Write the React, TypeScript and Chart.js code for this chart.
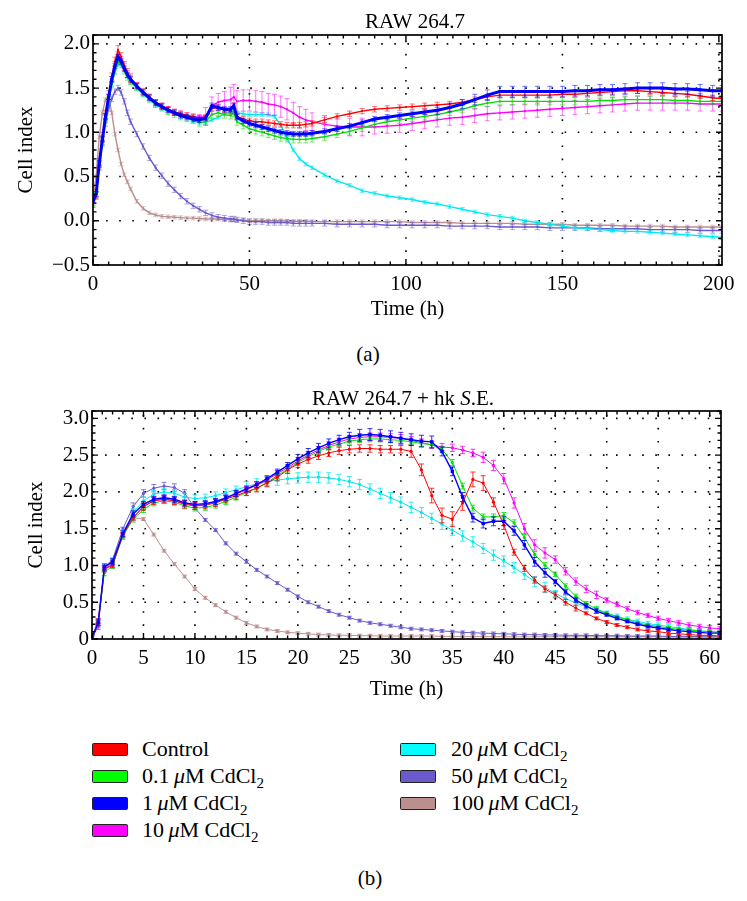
import React, { useEffect, useRef } from "react";
import { Chart, registerables } from "chart.js";

Chart.register(...registerables);

const FONT_FAMILY = "'Liberation Serif', serif";

// ---------- shared series info ----------
const SERIES_NAMES = ["Control", "0.1 μM CdCl2", "1 μM CdCl2", "10 μM CdCl2", "20 μM CdCl2", "50 μM CdCl2", "100 μM CdCl2"];
const SERIES_CONC = [null, "0.1", "1", "10", "20", "50", "100"];
const LINE_COLORS = ["#ff0000", "#00e000", "#0000ff", "#ff00ff", "#00e8f0", "#6a5acd", "#bc8f8f"];
const SWATCH_COLORS = ["#ff0000", "#00ff00", "#0000ff", "#ff00ff", "#00ffff", "#6a5acd", "#bc8f8f"];
const DRAW_ORDER = [1, 2, 0, 3, 4, 5, 6];

// ---------- panel (a): RAW 264.7 ----------
const TOP_TIME = [
  0, 1, 2, 3, 4, 5, 6, 7, 8, 9, 10, 11, 12,
  14, 16, 18, 20, 22, 24, 26, 28, 30, 32, 34, 36, 38, 40, 42, 44,
  45,
  46, 48, 50, 52, 54, 56, 58, 60, 62, 64, 66, 68, 70,
  74, 78, 82, 86, 90, 94, 98, 102, 106, 110, 114, 118, 122, 126, 130, 134, 138, 142, 146, 150, 154, 158, 162, 166, 170, 174, 178, 182, 186, 190, 194, 198,
  201,
];
const TOP_CONTROL = [
  0.25, 0.3, 0.65, 0.95, 1.2, 1.42, 1.62, 1.8, 1.93, 1.85, 1.75, 1.67, 1.61,
  1.53, 1.46, 1.4, 1.34, 1.3, 1.26, 1.23, 1.21, 1.19, 1.17, 1.16, 1.17, 1.27, 1.28, 1.25, 1.24,
  1.3,
  1.18, 1.15, 1.13, 1.12, 1.12, 1.11, 1.1, 1.09, 1.08, 1.08, 1.08, 1.09, 1.1,
  1.14, 1.18, 1.21, 1.24, 1.26, 1.27, 1.28, 1.29, 1.3, 1.31, 1.32, 1.34, 1.37, 1.4, 1.42, 1.42, 1.42, 1.42, 1.42, 1.43, 1.43, 1.44, 1.45, 1.46, 1.47, 1.47, 1.46, 1.45, 1.44, 1.43, 1.41, 1.39,
  1.38,
];
const TOP_CD01 = [
  0.2, 0.28, 0.62, 0.9, 1.15, 1.36, 1.55, 1.7, 1.8, 1.77, 1.7, 1.63, 1.58,
  1.51, 1.44, 1.38, 1.32, 1.28, 1.24, 1.21, 1.18, 1.16, 1.14, 1.11, 1.12, 1.2, 1.22, 1.2, 1.19,
  1.22,
  1.12, 1.08, 1.04, 1.02, 1.0, 0.98, 0.96, 0.94, 0.93, 0.92, 0.92, 0.92, 0.93,
  0.95, 0.98, 1.01, 1.05, 1.09, 1.12, 1.14, 1.16, 1.18, 1.2, 1.23, 1.26, 1.3, 1.33, 1.35, 1.35, 1.35, 1.35, 1.35, 1.35, 1.35, 1.35, 1.36, 1.36, 1.37, 1.37, 1.37, 1.37, 1.36, 1.36, 1.35, 1.35,
  1.35,
];
const TOP_CD1 = [
  0.22, 0.3, 0.65, 0.92, 1.18, 1.4, 1.6, 1.75, 1.85, 1.8, 1.72, 1.65, 1.6,
  1.52, 1.45, 1.39, 1.33, 1.29, 1.25, 1.22, 1.19, 1.17, 1.15, 1.14, 1.16, 1.3, 1.28, 1.26, 1.26,
  1.3,
  1.17, 1.13, 1.1, 1.08, 1.06, 1.04, 1.02, 1.0, 0.99, 0.98, 0.98, 0.98, 0.99,
  1.01, 1.04, 1.07, 1.11, 1.15, 1.17, 1.19, 1.21, 1.23, 1.25, 1.28, 1.32, 1.37, 1.42, 1.46, 1.46, 1.46, 1.46, 1.46, 1.46, 1.47, 1.47, 1.48, 1.48, 1.49, 1.5, 1.5, 1.5, 1.49, 1.49, 1.48, 1.47,
  1.47,
];
const TOP_CD10 = [
  0.18, 0.3, 0.64, 0.93, 1.18, 1.4, 1.6, 1.77, 1.88, 1.83, 1.75, 1.67, 1.61,
  1.53, 1.46, 1.4, 1.34, 1.3, 1.26, 1.23, 1.21, 1.19, 1.18, 1.17, 1.18, 1.3, 1.34, 1.36, 1.37,
  1.4,
  1.35, 1.36, 1.36, 1.35, 1.34, 1.32, 1.31, 1.29, 1.26, 1.22, 1.17, 1.14, 1.12,
  1.09, 1.07, 1.06, 1.06, 1.06, 1.07, 1.08, 1.1, 1.12, 1.14, 1.16, 1.17, 1.19, 1.21, 1.22, 1.23, 1.24, 1.25, 1.26, 1.27, 1.28, 1.29, 1.3, 1.31, 1.32, 1.33, 1.33, 1.33, 1.33, 1.33, 1.32, 1.32,
  1.32,
];
const TOP_CD20 = [
  0.22, 0.3, 0.62, 0.9, 1.14, 1.35, 1.54, 1.68, 1.77, 1.76, 1.7, 1.63, 1.57,
  1.5, 1.43, 1.37, 1.31, 1.27, 1.24, 1.21, 1.18, 1.16, 1.13, 1.11, 1.11, 1.14, 1.17, 1.21, 1.23,
  1.24,
  1.22, 1.21, 1.2, 1.2, 1.2, 1.2, 1.18, 1.08, 0.93, 0.8, 0.7, 0.64, 0.6,
  0.52, 0.45, 0.4, 0.34, 0.31, 0.28, 0.26, 0.24, 0.21, 0.19, 0.16, 0.13, 0.1, 0.07, 0.05, 0.03, 0.0, -0.02, -0.04, -0.06, -0.08, -0.09, -0.1, -0.11, -0.12, -0.12, -0.13, -0.14, -0.15, -0.16, -0.17, -0.18,
  -0.19,
];
const TOP_CD50 = [
  0.2, 0.3, 0.6, 0.88, 1.1, 1.27, 1.38, 1.46, 1.5, 1.45, 1.35, 1.22, 1.12,
  0.98, 0.84, 0.71, 0.6, 0.51, 0.42, 0.35, 0.28, 0.22, 0.17, 0.13, 0.09, 0.06, 0.04, 0.03, 0.02,
  0.02,
  0.01, 0.0, -0.01, -0.01, -0.01, -0.02, -0.02, -0.02, -0.02, -0.03, -0.03, -0.03, -0.03,
  -0.03, -0.04, -0.04, -0.04, -0.04, -0.05, -0.05, -0.05, -0.05, -0.05, -0.06, -0.06, -0.06, -0.06, -0.07, -0.07, -0.07, -0.07, -0.08, -0.08, -0.08, -0.08, -0.09, -0.09, -0.09, -0.09, -0.1, -0.1, -0.1, -0.1, -0.11, -0.11,
  -0.11,
];
const TOP_CD100 = [
  0.28, 0.5, 0.95, 1.22, 1.37, 1.4, 1.22, 0.98, 0.8, 0.64, 0.52, 0.44, 0.36,
  0.22, 0.14, 0.09, 0.065, 0.05, 0.045, 0.04, 0.035, 0.03, 0.03, 0.025, 0.02, 0.02, 0.02, 0.015, 0.01,
  0.01,
  0.01, 0.01, 0.0, 0.0, 0.0, 0.0, 0.0, 0.0, -0.005, -0.005, -0.005, -0.005, -0.01,
  -0.01, -0.01, -0.01, -0.01, -0.01, -0.01, -0.01, -0.02, -0.02, -0.02, -0.02, -0.03, -0.03, -0.03, -0.03, -0.03, -0.04, -0.04, -0.04, -0.04, -0.05, -0.05, -0.05, -0.05, -0.06, -0.06, -0.06, -0.06, -0.07, -0.07, -0.07, -0.07,
  -0.07,
];
// error half-widths: [from time, error]
const TOP_ERR = [
  [[0, 0.05], [14, 0.03]],
  [[0, 0.04]],
  [[0, 0.03], [110, 0.05], [122, 0.06]],
  [[0, 0.03], [36, 0.1], [44, 0.14], [46, 0.12], [70, 0.1], [90, 0.08]],
  [[0, 0.02]],
  [[0, 0.03]],
  [[0, 0.02]],
];
const TOP_X_TICKS = [0, 50, 100, 150, 200];
const TOP_Y_TICKS = [-0.5, 0, 0.5, 1, 1.5, 2];

// ---------- panel (b): RAW 264.7 + hk S.E. ----------
const BOT_TIME = [
  0, 0.6, 1.2,
  2, 3, 4, 5, 6, 7, 8, 9, 10, 11,
  12, 13, 14, 15, 16, 17, 18, 19, 20, 21,
  22, 23, 24, 25, 26, 27, 28, 29, 30, 31,
  32, 33, 34, 35, 36, 37, 38, 39, 40, 41,
  42, 43, 44, 45, 46, 47, 48, 49, 50, 51,
  52, 53, 54, 55, 56, 57, 58, 59, 60, 61,
];
const BOT_CONTROL = [
  0.02, 0.25, 0.95,
  1.0, 1.42, 1.65, 1.8, 1.88, 1.9, 1.88, 1.83, 1.81, 1.82,
  1.85, 1.9, 1.95, 2.0, 2.05, 2.12, 2.2, 2.3, 2.38, 2.44,
  2.49, 2.53, 2.56, 2.58, 2.59, 2.59, 2.58, 2.58, 2.58, 2.55,
  2.3, 1.95, 1.68, 1.63, 1.85, 2.17, 2.12, 1.86, 1.55, 1.18,
  0.96, 0.8, 0.68, 0.6, 0.5, 0.42, 0.35, 0.28, 0.23, 0.19,
  0.16, 0.13, 0.11, 0.1, 0.08, 0.07, 0.06, 0.05, 0.05, 0.04,
];
const BOT_CD01 = [
  0.02, 0.22, 0.9,
  1.0, 1.4, 1.63, 1.76, 1.85, 1.88, 1.86, 1.81, 1.78, 1.79,
  1.82, 1.87, 1.93, 1.99, 2.05, 2.13, 2.22, 2.31, 2.4, 2.48,
  2.55, 2.61, 2.65, 2.69, 2.71, 2.72, 2.72, 2.71, 2.7, 2.68,
  2.66, 2.64, 2.58, 2.4, 2.08, 1.78, 1.66, 1.66, 1.68, 1.58,
  1.38, 1.15, 1.0, 0.88, 0.72, 0.58, 0.48, 0.41, 0.35, 0.3,
  0.26, 0.22, 0.19, 0.17, 0.15, 0.13, 0.12, 0.11, 0.1, 0.09,
];
const BOT_CD1 = [
  0.02, 0.22, 0.98,
  1.05, 1.43, 1.7, 1.83, 1.9, 1.92, 1.9, 1.85, 1.83, 1.84,
  1.87, 1.92, 1.98, 2.04, 2.1, 2.18, 2.27, 2.36, 2.45, 2.53,
  2.6, 2.66, 2.71, 2.75, 2.77, 2.78, 2.77, 2.75, 2.73, 2.71,
  2.69, 2.68, 2.55, 2.28, 1.93, 1.65, 1.57, 1.6, 1.6, 1.47,
  1.28, 1.05, 0.9, 0.78, 0.64, 0.53, 0.45, 0.38, 0.33, 0.28,
  0.24, 0.2, 0.17, 0.15, 0.13, 0.11, 0.1, 0.09, 0.08, 0.08,
];
const BOT_CD10 = [
  0.02, 0.17, 0.95,
  1.02, 1.4, 1.65, 1.8, 1.88, 1.9, 1.88, 1.84, 1.82, 1.83,
  1.86, 1.91, 1.97, 2.03, 2.09, 2.16, 2.25, 2.33, 2.42, 2.5,
  2.57, 2.63, 2.68, 2.72, 2.74, 2.75, 2.75, 2.74, 2.73, 2.7,
  2.67, 2.64, 2.61, 2.6, 2.57, 2.53, 2.47, 2.36, 2.18, 1.85,
  1.5, 1.28, 1.17, 1.08, 0.92, 0.78, 0.68, 0.6, 0.53, 0.47,
  0.41, 0.36, 0.32, 0.28, 0.25, 0.22, 0.19, 0.17, 0.15, 0.14,
];
const BOT_CD20 = [
  0.02, 0.2, 0.97,
  1.05, 1.43, 1.72, 1.88, 1.97, 2.0, 1.98, 1.93, 1.91, 1.92,
  1.95, 1.99, 2.03, 2.07, 2.11, 2.14, 2.16, 2.18, 2.19, 2.2,
  2.2, 2.19, 2.17, 2.14, 2.1, 2.04, 1.98, 1.92, 1.86, 1.79,
  1.72, 1.64, 1.56, 1.48, 1.4, 1.32, 1.23, 1.14, 1.06, 0.97,
  0.88, 0.78, 0.7, 0.62, 0.55, 0.49, 0.44, 0.39, 0.35, 0.31,
  0.27, 0.24, 0.21, 0.19, 0.17, 0.15, 0.13, 0.11, 0.1, 0.09,
];
const BOT_CD50 = [
  0.02, 0.2, 0.98,
  1.08, 1.5, 1.8, 1.98, 2.05, 2.08, 2.06, 1.98, 1.78, 1.62,
  1.48, 1.3, 1.16, 1.05, 0.94, 0.85, 0.76, 0.67, 0.58, 0.5,
  0.44, 0.38, 0.33, 0.29, 0.25, 0.22, 0.2, 0.18, 0.16, 0.14,
  0.13, 0.12, 0.11, 0.1, 0.09, 0.085, 0.08, 0.075, 0.07, 0.065,
  0.06, 0.06, 0.055, 0.055, 0.05, 0.05, 0.05, 0.045, 0.045, 0.045,
  0.04, 0.04, 0.04, 0.04, 0.035, 0.035, 0.035, 0.03, 0.03, 0.03,
];
const BOT_CD100 = [
  0.02, 0.22, 0.95,
  1.05, 1.42, 1.65, 1.63, 1.42, 1.2, 1.02, 0.85, 0.68, 0.56,
  0.46, 0.37, 0.29, 0.22, 0.17, 0.13, 0.11, 0.09, 0.08, 0.07,
  0.06, 0.055, 0.05, 0.05, 0.045, 0.045, 0.04, 0.04, 0.04, 0.04,
  0.04, 0.04, 0.035, 0.035, 0.035, 0.035, 0.035, 0.035, 0.03, 0.03,
  0.03, 0.03, 0.03, 0.03, 0.03, 0.03, 0.03, 0.03, 0.03, 0.03,
  0.03, 0.03, 0.03, 0.03, 0.025, 0.025, 0.025, 0.025, 0.025, 0.025,
];
const BOT_ERR = [
  [[0, 0.03], [5, 0.05], [31, 0.08], [33, 0.1], [39, 0.06], [41, 0.04], [48, 0.02]],
  [[0, 0.04], [45, 0.03], [50, 0.02]],
  [[0, 0.04], [20, 0.06], [26, 0.08], [34, 0.06], [45, 0.03], [50, 0.02]],
  [[0, 0.04], [20, 0.05], [38, 0.07], [45, 0.05], [50, 0.03]],
  [[0, 0.05], [15, 0.07], [45, 0.04], [50, 0.03]],
  [[0, 0.02], [4, 0.05], [10, 0.02]],
  [[0, 0.02]],
];
const BOT_X_TICKS = [0, 5, 10, 15, 20, 25, 30, 35, 40, 45, 50, 55, 60];
const BOT_Y_TICKS = [0, 0.5, 1, 1.5, 2, 2.5, 3];

const TOP_TITLE = [{ text: "RAW 264.7" }];
const BOT_TITLE = [{ text: "RAW 264.7 + hk " }, { text: "S", italic: true }, { text: ".E." }];

// ---------- helpers ----------
function errAt(table: number[][], t: number) {
  let e = table[0][1];
  for (const [t0, v] of table) if (t >= t0) e = v;
  return e;
}
function rgba(hex: string, a: number) {
  const n = parseInt(hex.slice(1), 16);
  return `rgba(${(n >> 16) & 255},${(n >> 8) & 255},${n & 255},${a})`;
}
function steps(min: number, max: number, step: number) {
  const out: number[] = [];
  for (let k = 0; ; k++) {
    const v = Math.round((min + k * step) * 1000) / 1000;
    if (v > max + 1e-9) break;
    out.push(v);
  }
  return out;
}

const errorBarPlugin = {
  id: "errorBars",
  beforeDatasetDraw(chart: any, args: any) {
    const ds = chart.data.datasets[args.index];
    if (!ds.errTable) return;
    const { ctx, chartArea: a } = chart;
    const xs = chart.scales.x;
    const ys = chart.scales.y;
    ctx.save();
    ctx.beginPath();
    ctx.rect(a.left, a.top, a.right - a.left, a.bottom - a.top);
    ctx.clip();
    ctx.strokeStyle = ds.errColor;
    ctx.lineWidth = 1;
    const cap = ds.errCap;
    ctx.beginPath();
    for (const p of ds.data) {
      const e = errAt(ds.errTable, p.x);
      const px = xs.getPixelForValue(p.x);
      const y0 = ys.getPixelForValue(p.y + e);
      const y1 = ys.getPixelForValue(p.y - e);
      ctx.moveTo(px, y0);
      ctx.lineTo(px, y1);
      ctx.moveTo(px - cap, y0);
      ctx.lineTo(px + cap, y0);
      ctx.moveTo(px - cap, y1);
      ctx.lineTo(px + cap, y1);
    }
    ctx.stroke();
    ctx.restore();
  },
};

const decoPlugin = {
  id: "deco",
  beforeDatasetsDraw(chart: any, _args: any, opts: any) {
    const { ctx, chartArea: a } = chart;
    const xs = chart.scales.x;
    const ys = chart.scales.y;
    ctx.save();
    ctx.strokeStyle = "#000";
    ctx.lineWidth = 1.6;
    ctx.setLineDash([1.6, 11.5]);
    for (const v of opts.xTicks) {
      const px = xs.getPixelForValue(v);
      if (px <= a.left + 2 || px >= a.right - 2) continue;
      ctx.beginPath();
      ctx.moveTo(px, a.bottom);
      ctx.lineTo(px, a.top);
      ctx.stroke();
    }
    for (const v of opts.yTicks) {
      const py = ys.getPixelForValue(v);
      if (py >= a.bottom - 2 || py <= a.top + 2) continue;
      ctx.beginPath();
      ctx.moveTo(a.left, py);
      ctx.lineTo(a.right, py);
      ctx.stroke();
    }
    ctx.restore();
  },
  afterDraw(chart: any, _args: any, opts: any) {
    const { ctx, chartArea: a } = chart;
    const xs = chart.scales.x;
    const ys = chart.scales.y;
    const isMajor = (list: number[], v: number) => list.some((m) => Math.abs(m - v) < 1e-6);
    ctx.save();
    ctx.setLineDash([]);
    ctx.strokeStyle = "#000";
    ctx.lineWidth = 1.4;
    ctx.beginPath();
    for (const v of steps(xs.min, xs.max, opts.xMinor)) {
      const px = xs.getPixelForValue(v);
      const L = isMajor(opts.xTicks, v) ? 6 : 3.5;
      ctx.moveTo(px, a.bottom);
      ctx.lineTo(px, a.bottom - L);
      ctx.moveTo(px, a.top);
      ctx.lineTo(px, a.top + L);
    }
    for (const v of steps(ys.min, ys.max, opts.yMinor)) {
      const py = ys.getPixelForValue(v);
      const L = isMajor(opts.yTicks, v) ? 6 : 3.5;
      ctx.moveTo(a.left, py);
      ctx.lineTo(a.left + L, py);
      ctx.moveTo(a.right, py);
      ctx.lineTo(a.right - L, py);
    }
    ctx.stroke();
    ctx.lineWidth = 1.7;
    ctx.strokeRect(a.left, a.top, a.right - a.left, a.bottom - a.top);
    // title (mixed roman / italic)
    const segs = opts.title as { text: string; italic?: boolean }[];
    const fontOf = (s: any) => `${s.italic ? "italic " : ""}21px ${FONT_FAMILY}`;
    let total = 0;
    for (const s of segs) {
      ctx.font = fontOf(s);
      total += ctx.measureText(s.text).width;
    }
    let x = opts.titleX - total / 2;
    ctx.fillStyle = "#000";
    ctx.textBaseline = "alphabetic";
    ctx.textAlign = "left";
    for (const s of segs) {
      ctx.font = fontOf(s);
      ctx.fillText(s.text, x, opts.titleBaseline);
      x += ctx.measureText(s.text).width;
    }
    ctx.restore();
  },
};

function makeConfig(p: any) {
  const tickFont = { family: FONT_FAMILY, size: 21 };
  const titleFont = { family: FONT_FAMILY, size: 21 };
  const datasets = p.series.map((vals: number[], i: number) => ({
    label: SERIES_NAMES[i],
    data: p.time.map((t: number, k: number) => ({ x: t, y: vals[k] })),
    borderColor: LINE_COLORS[i],
    backgroundColor: LINE_COLORS[i],
    borderWidth: p.top ? (i === 2 ? 3 : 1.4) : i === 2 ? 1.4 : 1,
    pointStyle: p.top || i === 2 ? "rect" : "circle",
    pointRadius: p.top ? (i === 2 ? 2 : 1.4) : i === 2 ? 2.4 : 1.6,
    pointBorderWidth: 0,
    tension: 0,
    order: DRAW_ORDER[i],
    errTable: p.err[i],
    errColor: rgba(LINE_COLORS[i], p.top ? 0.55 : 0.8),
    errCap: 2.5,
  }));
  return {
    type: "line",
    data: { datasets },
    plugins: [errorBarPlugin, decoPlugin],
    options: {
      responsive: false,
      animation: false,
      devicePixelRatio: 1,
      layout: { padding: { top: p.padTop, right: p.padRight, left: 0, bottom: 0 } },
      plugins: {
        legend: { display: false },
        tooltip: { enabled: false },
        title: { display: false },
        deco: {
          xTicks: p.xTicks,
          yTicks: p.yTicks,
          xMinor: p.xMinor,
          yMinor: p.yMinor,
          title: p.title,
          titleX: p.titleX,
          titleBaseline: p.titleBaseline,
        },
      },
      scales: {
        x: {
          type: "linear",
          bounds: "data",
          min: p.xMin,
          max: p.xMax,
          afterBuildTicks: (s: any) => {
            s.ticks = p.xTicks.map((v: number) => ({ value: v }));
          },
          afterFit: (s: any) => {
            s.height = p.xAxisHeight;
          },
          grid: { display: false, drawTicks: false },
          border: { display: false },
          ticks: {
            font: tickFont,
            color: "#000",
            padding: 7,
            autoSkip: false,
            maxRotation: 0,
            callback: (v: number) => String(v),
          },
          title: {
            display: true,
            text: "Time (h)",
            font: titleFont,
            color: "#000",
            padding: { top: 0, bottom: p.xTitlePad },
          },
        },
        y: {
          type: "linear",
          bounds: "data",
          min: p.yMin,
          max: p.yMax,
          afterBuildTicks: (s: any) => {
            s.ticks = p.yTicks.map((v: number) => ({ value: v }));
          },
          afterFit: (s: any) => {
            s.width = p.yAxisWidth;
          },
          grid: { display: false, drawTicks: false },
          border: { display: false },
          ticks: {
            font: tickFont,
            color: "#000",
            padding: 3,
            autoSkip: false,
            callback: p.yLabel,
          },
          title: {
            display: true,
            text: "Cell index",
            font: titleFont,
            color: "#000",
            padding: { top: p.yTitlePad, bottom: 0 },
          },
        },
      },
    },
  };
}

const TOP_SERIES = [TOP_CONTROL, TOP_CD01, TOP_CD1, TOP_CD10, TOP_CD20, TOP_CD50, TOP_CD100];
const BOT_SERIES = [BOT_CONTROL, BOT_CD01, BOT_CD1, BOT_CD10, BOT_CD20, BOT_CD50, BOT_CD100];

function SeriesLabel({ conc }: { conc: string | null }) {
  if (conc === null) return <span>Control</span>;
  return (
    <span>
      {conc}
      {"\u2009"}
      <i>μ</i>M CdCl
      <sub style={{ fontSize: "15px", verticalAlign: "-5px", lineHeight: 0 }}>2</sub>
    </span>
  );
}

const LEGEND_LEFT = [0, 1, 2, 3];
const LEGEND_RIGHT = [4, 5, 6];
const LEGEND_ROW_Y = [749, 776, 803, 830];

export default function App() {
  const topRef = useRef<HTMLCanvasElement>(null);
  const botRef = useRef<HTMLCanvasElement>(null);

  useEffect(() => {
    const c1 = new Chart(
      topRef.current as HTMLCanvasElement,
      makeConfig({
        top: true,
        time: TOP_TIME,
        series: TOP_SERIES,
        err: TOP_ERR,
        xTicks: TOP_X_TICKS,
        yTicks: TOP_Y_TICKS,
        xMinor: 5,
        yMinor: 0.1,
        xMin: 0,
        xMax: 201,
        yMin: -0.5,
        yMax: 2.1,
        padTop: 35,
        padRight: 25,
        xAxisHeight: 65,
        yAxisWidth: 93,
        xTitlePad: 8,
        yTitlePad: 14,
        title: TOP_TITLE,
        titleX: 415,
        titleBaseline: 28,
        yLabel: (v: number) => (v < 0 ? "\u2212" + Math.abs(v).toFixed(1) : v.toFixed(1)),
      }) as any
    );
    const c2 = new Chart(
      botRef.current as HTMLCanvasElement,
      makeConfig({
        top: false,
        time: BOT_TIME,
        series: BOT_SERIES,
        err: BOT_ERR,
        xTicks: BOT_X_TICKS,
        yTicks: BOT_Y_TICKS,
        xMinor: 1,
        yMinor: 0.1,
        xMin: 0,
        xMax: 61.1,
        yMin: 0,
        yMax: 3.1,
        padTop: 41,
        padRight: 26,
        xAxisHeight: 66,
        yAxisWidth: 92,
        xTitlePad: 3,
        yTitlePad: 24,
        title: BOT_TITLE,
        titleX: 403,
        titleBaseline: 35,
        yLabel: (v: number) => (v === 0 ? "0" : v.toFixed(1)),
      }) as any
    );
    return () => {
      c1.destroy();
      c2.destroy();
    };
  }, []);

  const caption = (cx: number, cy: number): React.CSSProperties => ({
    position: "absolute",
    left: cx - 50,
    top: cy - 12,
    width: 100,
    height: 24,
    lineHeight: "24px",
    fontSize: 21,
    textAlign: "center",
  });

  const legendItem = (idx: number, row: number, swatchX: number, textX: number) => (
    <React.Fragment key={idx}>
      <div
        style={{
          position: "absolute",
          left: swatchX,
          top: LEGEND_ROW_Y[row] - 6.5,
          width: 36,
          height: 13,
          boxSizing: "border-box",
          border: "1.5px solid #222",
          borderRadius: 1.5,
          background: SWATCH_COLORS[idx],
        }}
      />
      <div
        style={{
          position: "absolute",
          left: textX,
          top: LEGEND_ROW_Y[row] - 14,
          height: 28,
          lineHeight: "28px",
          fontSize: 22,
          whiteSpace: "nowrap",
        }}
      >
        <SeriesLabel conc={SERIES_CONC[idx]} />
      </div>
    </React.Fragment>
  );

  return (
    <div
      style={{
        position: "absolute",
        left: 0,
        top: 0,
        width: 747,
        height: 901,
        background: "#fff",
        color: "#000",
        fontFamily: FONT_FAMILY,
        overflow: "hidden",
      }}
    >
      <canvas ref={topRef} width={747} height={330} style={{ position: "absolute", left: 0, top: 0 }} />
      <div style={caption(368, 354)}>(a)</div>
      <canvas ref={botRef} width={747} height={335} style={{ position: "absolute", left: 0, top: 370 }} />
      {LEGEND_LEFT.map((idx, row) => legendItem(idx, row, 92, 142))}
      {LEGEND_RIGHT.map((idx, row) => legendItem(idx, row, 400, 451))}
      <div style={caption(370, 878)}>(b)</div>
    </div>
  );
}
